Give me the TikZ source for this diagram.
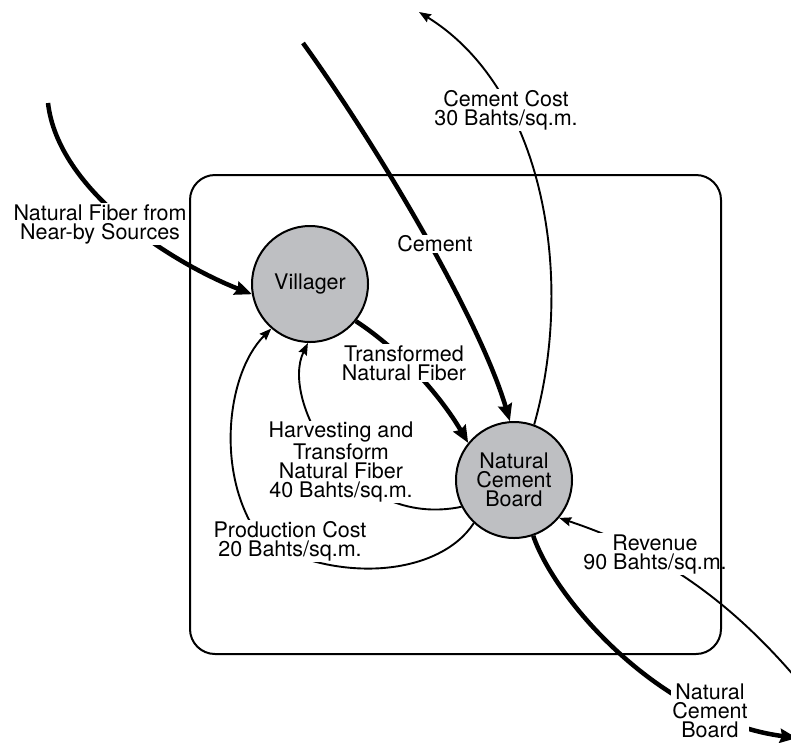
\documentclass[tikz,border=0pt]{standalone}
\usepackage{fontspec}
\setmainfont{TeX Gyre Heros}
\usetikzlibrary{arrows.meta}
\definecolor{nodegray}{RGB}{190,191,194}
\newcommand{\diafont}{\fontsize{21.5}{19}\selectfont}

\begin{document}
\begin{tikzpicture}[x=1pt,y=1pt,yscale=-1,
  party/.style={circle,draw,line width=2pt,fill=nodegray,minimum size=116pt,inner sep=0pt,align=center,font=\diafont},
  lbl/.style={fill=white,inner sep=1pt,align=center,font=\diafont},
  heavyflow/.style={line width=4.5pt,-{Stealth[length=17pt,width=14pt,inset=2pt]}},
  lightflow/.style={line width=1.9pt,-{Stealth[length=12pt,width=9pt,inset=1.5pt]}}]
\useasboundingbox (0,0) rectangle (791,742);

%Shape: Circle
\node[party] (vil) at (310,284) {Villager};
%Shape: Circle
\node[party] (ncb) at (514,480) {Natural\\Cement\\Board};

% free ends
\coordinate (fibsrc) at (48,103);
\coordinate (cemsrc) at (303,43);
\coordinate (costtgt) at (419,12);
\coordinate (revsrc) at (806,690);
\coordinate (outtgt) at (797,738);

%Curve Lines
\draw[heavyflow] (fibsrc) .. controls (58,190) and (170,262) .. (vil.190);
%Curve Lines
\draw[heavyflow] (cemsrc) .. controls (380,150) and (480,320) .. (ncb.94);
%Curve Lines
\draw[lightflow] (ncb.70) .. controls (575,280) and (545,90) .. (costtgt);
%Curve Lines
\draw[heavyflow] (vil.321) .. controls (400,350) and (440,395) .. (ncb.141);
%Curve Lines
\draw[lightflow] (ncb.207) .. controls (350,530) and (280,400) .. (vil.268);
%Curve Lines
\draw[lightflow] (ncb.227) .. controls (440,575) and (340,585) .. (262,540) .. controls (215,480) and (225,375) .. (vil.229);
%Curve Lines
\draw[lightflow] (revsrc) .. controls (720,585) and (640,545) .. (ncb.320);
%Curve Lines
\draw[heavyflow] (ncb.289) .. controls (555,600) and (660,720) .. (outtgt);

% Text Node
\node[lbl] (fiblbl) at (100,224) {Natural Fiber from\\Near-by Sources};
% Text Node
\node[lbl] (cemlbl) at (435,244) {Cement};
% Text Node
\node[lbl] (costlbl) at (506,110) {Cement Cost\\30 Bahts/sq.m.};
% Text Node
\node[lbl] (trlbl) at (404,363) {Transformed\\Natural Fiber};
% Text Node
\node[lbl] (harvlbl) at (341,462) {Harvesting and\\Transform\\Natural Fiber\\40 Bahts/sq.m.};
% Text Node
\node[lbl] (prodlbl) at (290,541) {Production Cost\\20 Bahts/sq.m.};
% Text Node
\node[lbl] (revlbl) at (655,554) {Revenue\\90 Bahts/sq.m.};
% Text Node
\node[lbl] (outlbl) at (710,711) {Natural\\Cement\\Board};

%Shape: Rectangle
\draw[line width=2pt,rounded corners=25pt] (190,175) rectangle (721,654);

\end{tikzpicture}
\end{document}
